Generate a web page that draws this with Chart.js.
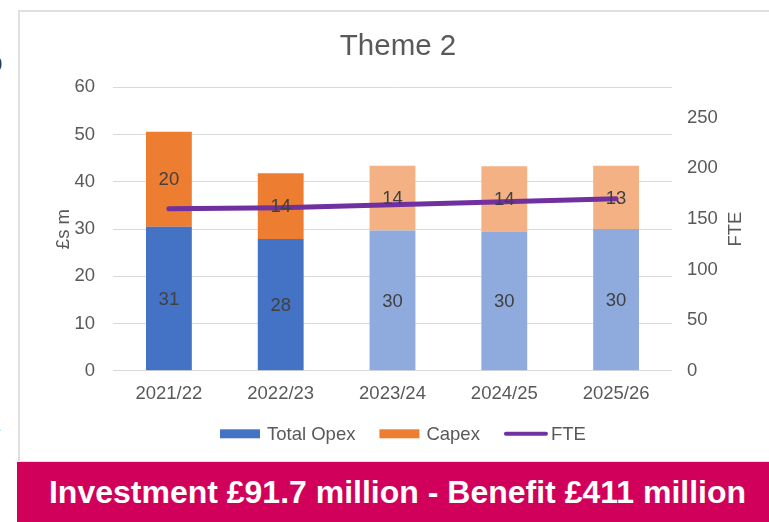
<!DOCTYPE html>
<html>
<head>
<meta charset="utf-8">
<script src="https://cdn.jsdelivr.net/npm/chart.js@4/dist/chart.umd.min.js"></script>
<style>
  html, body { margin: 0; padding: 0; background: #fff; width: 769px; height: 522px; overflow: hidden; position: relative; font-family: "Liberation Sans", Arial, sans-serif; }
  #frame { position: absolute; left: 18px; top: 10px; width: 790px; height: 453px; border: 2px solid #e0e0e0; box-sizing: border-box; }
  #wrap { position: absolute; left: 20px; top: 12px; width: 749px; height: 449px; }
  #banner { position: absolute; left: 17px; top: 462px; width: 752px; height: 60px; box-sizing: border-box; padding-left: 9px;
            background: #D1005B; color: #fff; font-weight: bold; font-size: 32px; line-height: 60px; text-align: center; white-space: nowrap; }
  .edge { position: absolute; color: #333; font-size: 20px; line-height: 1; }
</style>
</head>
<body>
<span class="edge" style="left:-9px;top:54px;">0</span>
<span class="edge" style="left:-3px;top:422px;font-size:14px;">·</span>
<div id="frame"></div>
<div id="wrap"><canvas id="c" width="749" height="449"></canvas></div>
<div id="banner">Investment £91.7 million - Benefit £411 million</div>
<script>
// Theme 2 spend (£m) and staffing (FTE) by financial year
const categories = ['2021/22', '2022/23', '2023/24', '2024/25', '2025/26'];
const totalOpex  = [30.5, 27.9, 29.7, 29.5, 30.0];
const capex      = [20.1, 13.9, 13.7, 13.8, 13.4];
const fte        = [160, 161, 164, 167, 170];
const moneyTicks = [0, 10, 20, 30, 40, 50, 60];
const fteTicks   = [0, 50, 100, 150, 200, 250];

// actual years in full colour, forecast years in lighter tints
const opexColours  = ['#4472C4', '#4472C4', '#8FAADC', '#8FAADC', '#8FAADC'];
const capexColours = ['#ED7D31', '#ED7D31', '#F4B183', '#F4B183', '#F4B183'];
const fteColour = '#7030A0';

const textGrey = '#595959';
const fontFamily = '"Liberation Sans", Arial, sans-serif';
const labelFont = '18.5px ' + fontFamily;
Chart.defaults.font.family = fontFamily;
Chart.defaults.color = textGrey;

// value printed in the middle of each stacked segment
const segmentLabels = {
  id: 'segmentLabels',
  afterDatasetsDraw(chart) {
    const ctx = chart.ctx;
    ctx.save();
    ctx.font = labelFont;
    ctx.fillStyle = '#404040';
    ctx.textAlign = 'center';
    ctx.textBaseline = 'middle';
    [0, 1].forEach(di => {
      const meta = chart.getDatasetMeta(di);
      meta.data.forEach((el, i) => {
        const v = chart.data.datasets[di].data[i];
        const p = el.getProps(['x', 'y', 'base'], true);
        ctx.fillText(String(Math.round(v)), p.x, (p.y + p.base) / 2 + 1);
      });
    });
    ctx.restore();
  }
};

// right-hand axis title (reads bottom to top) and the key under the chart
const extras = {
  id: 'extras',
  afterDraw(chart) {
    const ctx = chart.ctx;
    const a = chart.chartArea;
    ctx.save();
    ctx.font = labelFont;
    ctx.fillStyle = textGrey;
    ctx.textBaseline = 'middle';

    ctx.save();
    ctx.translate(a.right + 64, (a.top + a.bottom) / 2);
    ctx.rotate(-Math.PI / 2);
    ctx.textAlign = 'center';
    ctx.fillText('FTE', 0, 0);
    ctx.restore();

    // key
    const ky = a.bottom + 63;
    let kx = 200;
    ctx.textAlign = 'left';
    chart.data.datasets.forEach((ds, i) => {
      if (ds.type === 'line') {
        ctx.strokeStyle = ds.borderColor;
        ctx.lineWidth = 4;
        ctx.lineCap = 'round';
        ctx.beginPath();
        ctx.moveTo(kx + 2, ky);
        ctx.lineTo(kx + 42, ky);
        ctx.stroke();
        kx += 47;
      } else {
        ctx.fillStyle = ds.backgroundColor[0];
        ctx.fillRect(kx, ky - 4.5, 40, 9);
        kx += 47;
      }
      ctx.fillStyle = textGrey;
      ctx.fillText(ds.label, kx, ky + 1);
      kx += ctx.measureText(ds.label).width + 24;
    });
    ctx.restore();
  }
};

new Chart(document.getElementById('c'), {
  type: 'bar',
  data: {
    labels: categories,
    datasets: [
      { label: 'Total Opex', data: totalOpex, backgroundColor: opexColours, yAxisID: 'y', stack: 'money',
        barPercentage: 0.41, categoryPercentage: 1 },
      { label: 'Capex', data: capex, backgroundColor: capexColours, yAxisID: 'y', stack: 'money',
        barPercentage: 0.41, categoryPercentage: 1 },
      { label: 'FTE', type: 'line', data: fte, yAxisID: 'y1', order: -1,
        borderColor: fteColour, backgroundColor: fteColour, borderWidth: 5, borderCapStyle: 'round',
        pointRadius: 0, pointHoverRadius: 0, tension: 0, fill: false }
    ]
  },
  options: {
    responsive: false,
    animation: false,
    layout: { padding: { left: 7, right: 0, top: 0, bottom: 44 } },
    plugins: {
      title: { display: true, text: 'Theme 2', color: textGrey, font: { size: 29.5, weight: 'normal' },
               padding: { top: 17, bottom: 23 } },
      legend: { display: false },
      tooltip: { enabled: false }
    },
    scales: {
      x: {
        stacked: true,
        grid: { display: false, drawTicks: false },
        border: { display: false },
        ticks: { color: textGrey, font: { size: 18.5 }, padding: 12, maxRotation: 0 }
      },
      y: {
        stacked: true, position: 'left', min: 0, max: 60,
        afterBuildTicks(s) { s.ticks = moneyTicks.map(v => ({ value: v })); },
        afterFit(s) { s.width = 86; },
        grid: { color: '#d9d9d9', lineWidth: 1, drawTicks: false },
        border: { display: false },
        ticks: { color: textGrey, font: { size: 18.5 }, padding: 18 },
        title: { display: true, text: '£s m', color: textGrey, font: { size: 18.5 }, padding: { top: 26, bottom: 0 } }
      },
      y1: {
        position: 'right', min: 0, max: 280,
        afterBuildTicks(s) { s.ticks = fteTicks.map(v => ({ value: v })); },
        afterFit(s) { s.width = 97; },
        grid: { display: false, drawTicks: false },
        border: { display: false },
        ticks: { color: textGrey, font: { size: 18.5 }, padding: 15 }
      }
    }
  },
  plugins: [segmentLabels, extras]
});
</script>
</body>
</html>
